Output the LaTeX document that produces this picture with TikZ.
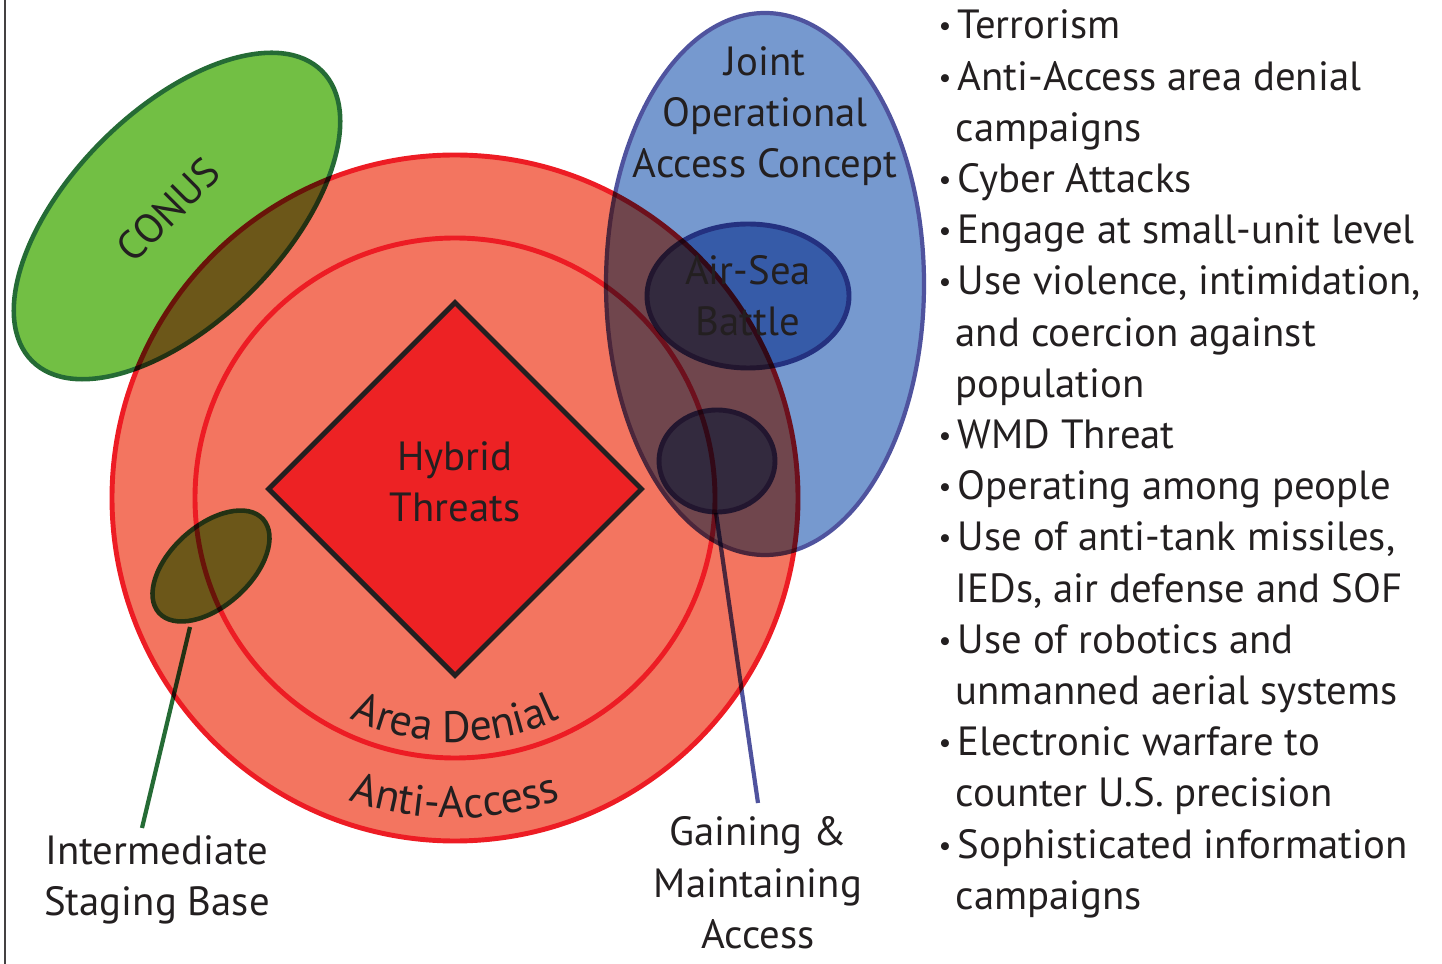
\documentclass[tikz,border=0pt]{standalone}
\usepackage{fontspec}
\setmainfont{PT Sans}
\usetikzlibrary{shapes.geometric,decorations.text}

\definecolor{ink}{HTML}{231F20}
\definecolor{salmon}{HTML}{F37560}
\definecolor{ringred}{HTML}{ED1C24}
\definecolor{corered}{HTML}{ED2224}
\definecolor{conusgreen}{HTML}{72BF44}
\definecolor{conusedge}{HTML}{256B35}
\definecolor{jointblue}{HTML}{7699CF}
\definecolor{jointedge}{HTML}{4F539E}

\newcommand{\bul}{\makebox[2mm][l]{\hspace*{0.1mm}\raisebox{0.15ex}{\scalebox{0.7}{\textbullet}}}}
\newcommand{\ind}{\hspace*{1.8mm}}
\newcommand{\arcfont}{\fontsize{12.5pt}{14pt}\selectfont}

\tikzset{
  lbl/.style={align=center, text=ink, font=\fontsize{11.6pt}{14.6pt}\selectfont},
  item/.style={lbl, align=left, anchor=base west, inner sep=0pt},
  ring/.style={draw=ringred, line width=1.4pt},
  greenzone/.style={fill=conusgreen, draw=conusedge, line width=1.3pt},
  bluezone/.style={fill=jointblue, draw=jointedge, line width=1.2pt},
  leader/.style={line width=1.2pt}
}

\begin{document}
\begin{tikzpicture}[x=0.1mm,y=0.1mm]
\useasboundingbox (0,0) rectangle (1442,-964);
\draw[line width=0.7pt, ink!85] (5,0) -- (5,-964);

% anti-access / area denial rings
\coordinate (c) at (455,-498);
\filldraw[ring, fill=salmon] (c) circle [radius=343];
\draw[ring] (c) circle [radius=260];
\node (hybrid) at (455,-489) [diamond,draw=ink,line width=1.4pt,fill=corered,minimum width=37.5mm,minimum height=37.5mm,inner sep=0pt] {};
\node (threat) at (455,-482) [lbl] {Hybrid\\Threats};
\path[decorate, decoration={text along path, text align=center, text color=ink, text={|\arcfont|Area Denial}}]
  (c) ++(225:244) arc [start angle=225, end angle=315, radius=244];
\path[decorate, decoration={text along path, text align=center, text color=ink, text={|\arcfont|Anti-Access}}]
  (c) ++(230:320) arc [start angle=230, end angle=310, radius=320];

% overlapping zones, each one multiplied onto what lies below
\coordinate (isbfoot) at (190,-627);
\coordinate (isbend) at (142,-828);
\coordinate (gmfoot) at (716,-513);
\coordinate (gmend) at (758,-803);
\begin{scope}[blend mode=multiply]
\begin{scope}[transparency group]
\draw[greenzone, rotate around={45:(177,-216)}] (177,-216) ellipse [x radius=205, y radius=106];
\end{scope}
\begin{scope}[transparency group]
\draw[greenzone, rotate around={42:(211,-566)}] (211,-566) ellipse [x radius=70, y radius=40];
\end{scope}
\begin{scope}[transparency group]
\draw[bluezone] (765,-284) ellipse [x radius=159, y radius=271];
\end{scope}
\begin{scope}[transparency group]
\draw[bluezone, line width=1.4pt] (748,-296) ellipse [x radius=101, y radius=72];
\end{scope}
\begin{scope}[transparency group]
\draw[bluezone, line width=1.4pt] (717,-461) ellipse [x radius=58, y radius=51];
\end{scope}
\draw[leader, conusedge] (isbfoot) -- (isbend);
\draw[leader, jointedge] (gmfoot) -- (gmend);
\end{scope}

\node (conus) at (168,-210) [lbl, rotate=45] {CONUS};
\node (joint) at (765,-116) [lbl] {Joint\\Operational\\Access Concept};
\node (airsea) at (748,-296) [lbl] {Air-Sea\\Battle};
\node (isb) at (157,-880) [lbl] {Intermediate\\Staging Base};
\node (gaining) at (758,-883) [lbl] {Gaining \&\\Maintaining\\Access};

% threat list
\foreach \txt [count=\i from 0] in {
  {\bul Terrorism}, {\bul Anti-Access area denial}, {\ind campaigns},
  {\bul Cyber Attacks}, {\bul Engage at small-unit level},
  {\bul Use violence, intimidation,}, {\ind and coercion against}, {\ind population},
  {\bul WMD Threat}, {\bul Operating among people},
  {\bul Use of anti-tank missiles,}, {\ind IEDs, air defense and SOF},
  {\bul Use of robotics and}, {\ind unmanned aerial systems},
  {\bul Electronic warfare to}, {\ind counter U.S. precision},
  {\bul Sophisticated information}, {\ind campaigns}}
  \node[item] at (937,{-39-51.2*\i}) {\txt};
\end{tikzpicture}
\end{document}
